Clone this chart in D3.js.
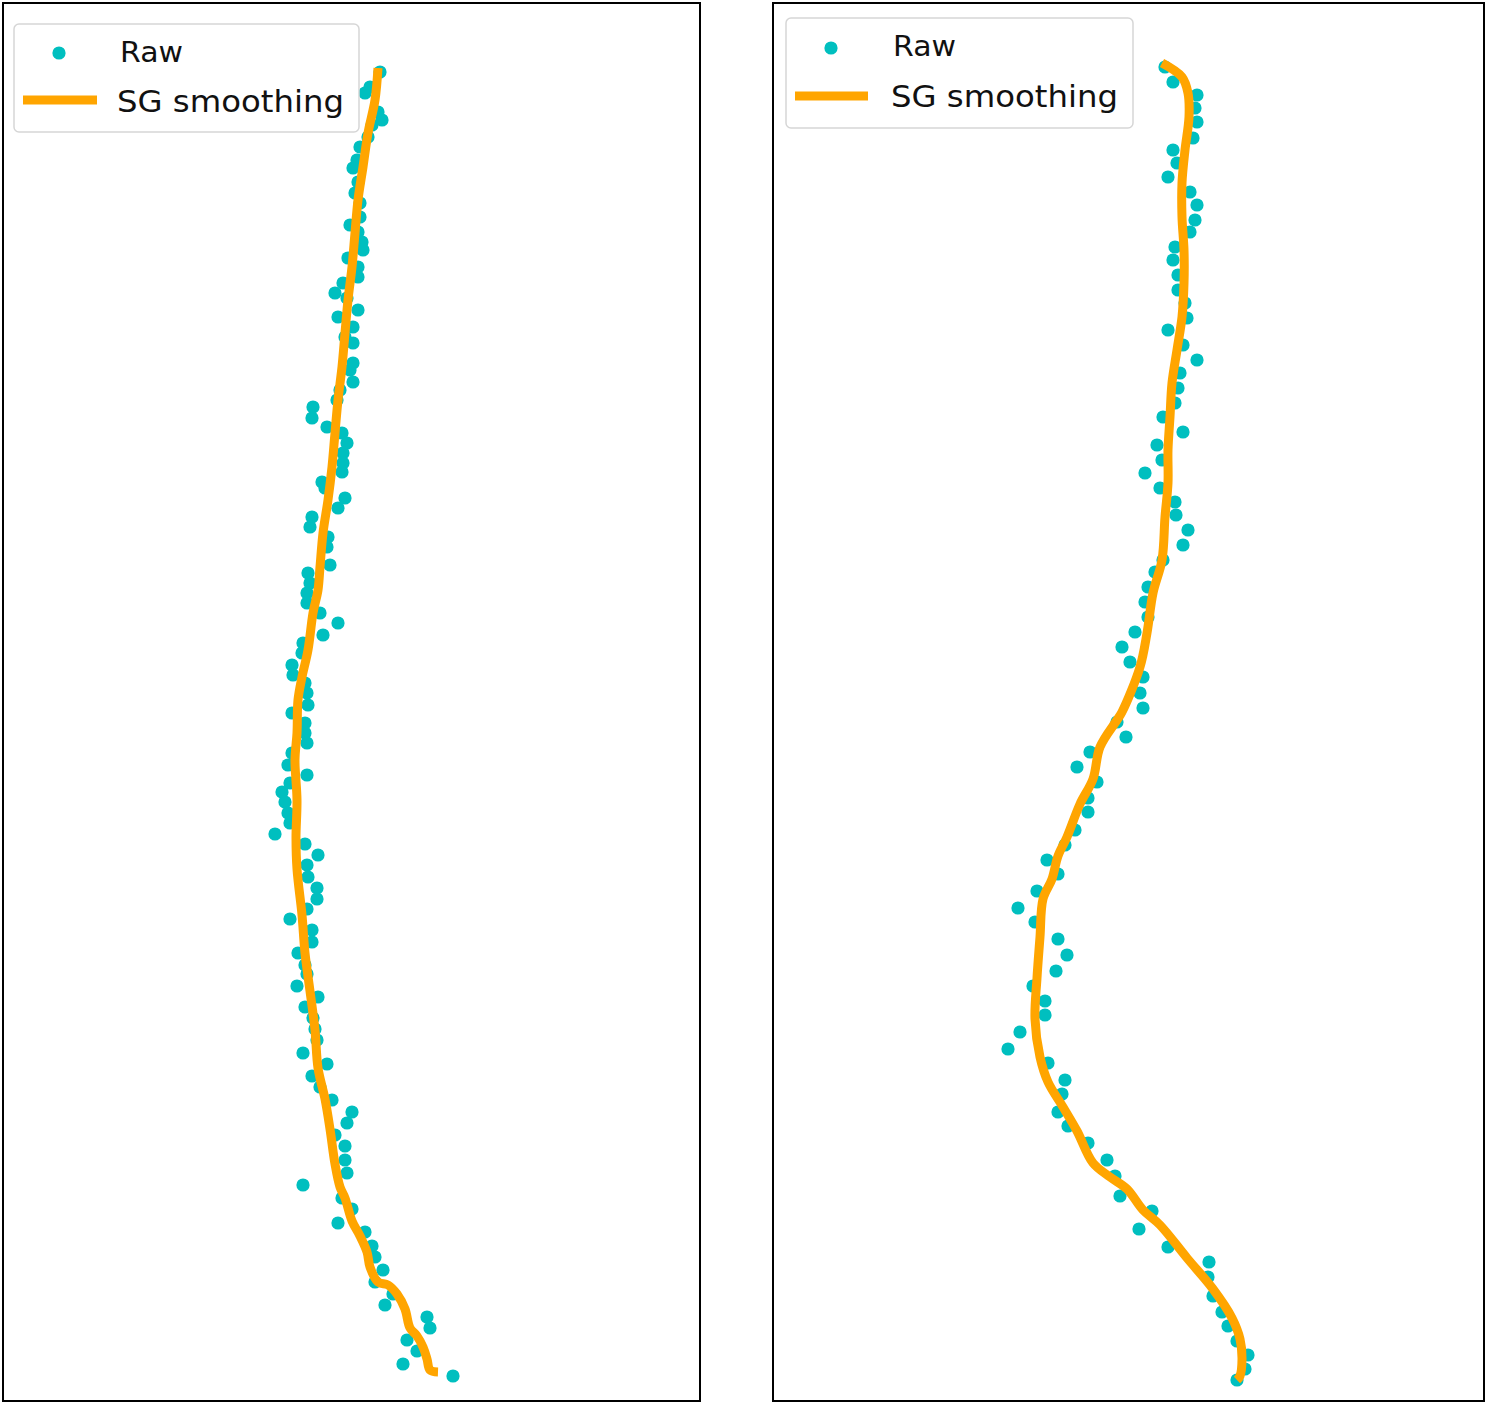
<!DOCTYPE html>
<html>
<head>
<meta charset="utf-8">
<script src="https://cdn.jsdelivr.net/npm/d3@7"></script>
<style>
  html, body { margin: 0; padding: 0; background: #ffffff; }
  svg { display: block; }
</style>
</head>
<body>
<svg id="chart" width="1500" height="1406"></svg>
<script>
// ---------------- DATA (panel-relative units) ----------------
const seriesLabels = ["Raw", "SG smoothing"];

const leftRawX = [377,367,362,375,379,369,365,357,354,350,355,352,357,357,347,355,359,360,345,355,355,340,332,344,355,335,350,342,350,350,347,350,337,334,
  310,309,324,339,344,340,340,339,319,322,342,335,309,307,325,324,327,305,307,304,304,317,335,320,300,299,289,290,302,304,305,289,302,302,304,289,285,304,287,279,
  282,285,287,272,302,315,304,305,314,314,304,287,309,309,295,302,304,294,315,302,310,312,314,300,324,309,317,329,349,344,332,342,342,344,300,339,349,335,362,369,372,380,372,390,382,424,427,404,414,400,450];
const leftRawY = [69,84,90,109,117,122,134,144,157,165,179,190,200,214,222,229,239,247,255,264,274,280,290,295,307,314,324,334,340,360,367,379,387,397,
  404,415,424,430,440,450,460,469,479,485,495,505,514,524,534,544,562,570,580,590,600,610,620,632,640,650,662,672,680,690,702,710,720,730,740,750,762,772,780,789,
  799,810,820,831,841,852,862,874,885,896,906,916,927,939,950,962,971,983,994,1004,1015,1026,1037,1050,1061,1073,1084,1097,1109,1120,1132,1143,1157,1170,1182,1195,1206,1220,1229,1243,1254,1267,1279,1291,1302,1314,1325,1337,1348,1361,1373];

const leftSmoothX = [375,372,365,360,355,352,349,345,342,339,335,332,329,325,320,317,315,310,305,299,295,294,292,294,293,294,299,302,307,312,315,322,327,332,337,342,349,357,364,367,375,385,394,402,407,414,420,424,427,435];
const leftSmoothY = [65,97,130,164,197,230,264,297,330,364,397,430,464,497,530,564,587,610,647,674,697,730,757,797,835,866,912,950,988,1027,1065,1096,1126,1161,1184,1195,1218,1233,1249,1264,1279,1282,1291,1306,1325,1333,1344,1356,1367,1369];

const rightRawX = [392,400,424,422,424,420,400,404,395,417,424,422,417,402,400,405,405,412,414,395,410,424,407,405,
  402,390,410,384,389,372,387,402,403,415,410,390,382,375,372,375,362,349,357,370,367,370,344,353,
  317,304,324,315,315,302,292,274,285,264,245,262,285,294,283,260,272,272,247,235,275,292,289,285,295,315,334,342,347,379,366,395,436,435,440,449,455,464,475,472,464];
const rightRawY = [64,79,92,105,119,135,147,160,174,189,202,217,229,244,257,272,287,300,315,327,342,357,370,385,
  400,414,429,442,457,470,485,499,512,527,542,557,569,584,599,614,629,644,659,674,690,705,719,734,
  749,764,779,795,809,827,842,857,871,888,905,919,936,952,968,983,998,1012,1029,1046,1060,1077,1091,1109,1123,1140,1157,1173,1193,1208,1226,1244,1259,1274,1293,1309,1323,1338,1352,1366,1377];

const rightSmoothX = [389,409,415,416,412,409,409,411,411,409,404,399,397,395,395,392,389,380,374,367,349,344,327,320,307,294,285,279,270,267,264,262,267,275,290,304,320,337,354,370,387,414,440,459,467,469,467,464];
const rightSmoothY = [60,74,90,114,147,180,214,247,280,314,347,380,414,447,480,514,557,590,630,664,709,717,744,776,801,834,853,876,896,934,975,1016,1054,1079,1104,1128,1160,1174,1186,1207,1222,1255,1286,1315,1336,1356,1373,1377];

// ---------------- LAYOUT ----------------
const panels = [
  { x0: 3,   x1: 700,  y0: 3, y1: 1401, xDom: [0, 697], yDom: [0, 1398],
    rawX: leftRawX, rawY: leftRawY, smX: leftSmoothX, smY: leftSmoothY,
    legend: { x: 14, y: 24, w: 345, h: 108, dotX: 59, dotY: 53, lineX0: 23, lineX1: 97, lineY: 100, textX: 120, raw: 62, sg: 112, tx1: 117 } },
  { x0: 773, x1: 1484, y0: 3, y1: 1401, xDom: [0, 711], yDom: [0, 1398],
    rawX: rightRawX, rawY: rightRawY, smX: rightSmoothX, smY: rightSmoothY,
    legend: { x: 786, y: 18, w: 347, h: 110, dotX: 831, dotY: 48, lineX0: 795, lineX1: 868, lineY: 96, textX: 893, raw: 56, sg: 107, tx1: 891 } }
];

const rawColor = "#00bfbf";
const smoothColor = "#ffa500";

const svg = d3.select("#chart");

panels.forEach(p => {
  const x = d3.scaleLinear().domain(p.xDom).range([p.x0, p.x1]);
  const y = d3.scaleLinear().domain(p.yDom).range([p.y0, p.y1]);
  const g = svg.append("g");

  // raw points
  const raw = p.rawX.map((v, i) => ({ x: v, y: p.rawY[i] }));
  g.append("g").selectAll("circle").data(raw).enter().append("circle")
    .attr("cx", d => x(d.x)).attr("cy", d => y(d.y)).attr("r", 6.6)
    .attr("fill", rawColor);

  // smoothing line
  const sm = p.smX.map((v, i) => ({ x: v, y: p.smY[i] }));
  g.append("path").datum(sm)
    .attr("d", d3.line().x(d => x(d.x)).y(d => y(d.y)).curve(d3.curveCatmullRom.alpha(0.5)))
    .attr("fill", "none").attr("stroke", smoothColor).attr("stroke-width", 9)
    .attr("stroke-linejoin", "round").attr("stroke-linecap", "butt");

  // frame
  g.append("rect").attr("x", p.x0).attr("y", p.y0)
    .attr("width", p.x1 - p.x0).attr("height", p.y1 - p.y0)
    .attr("fill", "none").attr("stroke", "#000").attr("stroke-width", 2);

  // legend
  const L = p.legend;
  const lg = g.append("g");
  lg.append("rect").attr("x", L.x).attr("y", L.y).attr("width", L.w).attr("height", L.h)
    .attr("rx", 5).attr("fill", "#ffffff").attr("fill-opacity", 0.85)
    .attr("stroke", "#d6d6d6").attr("stroke-width", 1.5);
  lg.append("circle").attr("cx", L.dotX).attr("cy", L.dotY).attr("r", 6.6).attr("fill", rawColor);
  lg.append("line").attr("x1", L.lineX0).attr("x2", L.lineX1).attr("y1", L.lineY).attr("y2", L.lineY)
    .attr("stroke", smoothColor).attr("stroke-width", 9);
  lg.append("text").attr("x", L.textX).attr("y", L.raw).text(seriesLabels[0])
    .attr("font-family", "DejaVu Sans").attr("font-size", 29).attr("fill", "#111")
    .attr("textLength", 63).attr("lengthAdjust", "spacingAndGlyphs");
  lg.append("text").attr("x", L.tx1).attr("y", L.sg).text(seriesLabels[1])
    .attr("font-family", "DejaVu Sans").attr("font-size", 31).attr("fill", "#111")
    .attr("textLength", 227).attr("lengthAdjust", "spacingAndGlyphs");
});
</script>
</body>
</html>
